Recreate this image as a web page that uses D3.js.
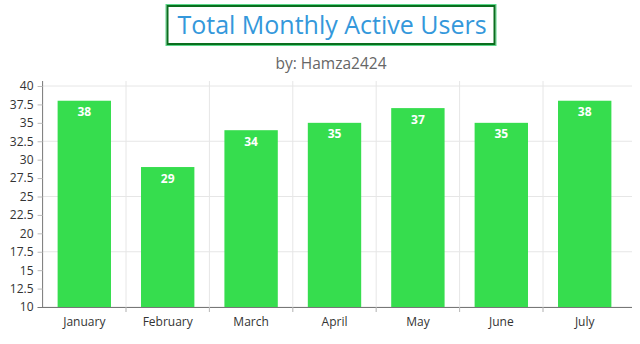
<!DOCTYPE html>
<html><head><meta charset="utf-8">
<script src="https://cdn.jsdelivr.net/npm/d3@7"></script>
<style>body{margin:0;background:#fff;font-family:"Open Sans",sans-serif}</style>
</head><body><svg id="c" width="640" height="344"></svg>
<script>
const categories = ["January","February","March","April","May","June","July"];
const values = [38,29,34,35,37,35,38];
const yTicks = [10,12.5,15,17.5,20,22.5,25,27.5,30,32.5,35,37.5,40];
const gridTicks = [10,17.5,25,32.5,40];
const title = "Total Monthly Active Users";
const subtitle = "by: Hamza2424";

(function(){
const svg = d3.select("#c");
const mLeft = 42.6, mRight = 626.4, mTop = 86, mBottom = 307;
const x = d3.scaleBand().domain(categories).range([mLeft, mRight]).paddingInner(0.36).paddingOuter(0.18);
const xg = d3.scaleBand().domain(categories).range([mLeft, mRight]);
const y = d3.scaleLinear().domain([10, 40]).range([mBottom, mTop]);

// title
svg.append("rect").attr("x",166).attr("y",4.5).attr("width",330).attr("height",41)
  .attr("fill","#fff").attr("stroke","#5ad88a").attr("stroke-width",1);
svg.append("rect").attr("x",167.5).attr("y",6).attr("width",327).attr("height",38)
  .attr("fill","none").attr("stroke","#0a6e1e").attr("stroke-width",2);
svg.append("text").attr("x",332).attr("y",34).attr("text-anchor","middle")
  .attr("font-size",25).attr("fill","#3498db").text(title);
svg.append("text").attr("x",331).attr("y",69).attr("text-anchor","middle")
  .attr("font-size",15.5).attr("fill","#666").text(subtitle);

// grid
svg.append("g").selectAll("line").data(gridTicks).join("line")
  .attr("x1",mLeft).attr("x2",632).attr("y1",d=>y(d)).attr("y2",d=>y(d))
  .attr("stroke","#e6e6e6").attr("stroke-width",1);
svg.append("g").selectAll("line").data(categories.slice(1)).join("line")
  .attr("x1",d=>xg(d)).attr("x2",d=>xg(d)).attr("y1",mTop-5).attr("y2",mBottom+5)
  .attr("stroke","#e6e6e6").attr("stroke-width",1);

// bars
svg.append("g").selectAll("rect").data(values).join("rect")
  .attr("x",(d,i)=>x(categories[i])).attr("width",x.bandwidth())
  .attr("y",d=>y(d)).attr("height",d=>mBottom-y(d)).attr("fill","#36dd4e");
svg.append("g").selectAll("text").data(values).join("text")
  .attr("x",(d,i)=>x(categories[i])+x.bandwidth()/2).attr("y",d=>y(d)+15.5)
  .attr("text-anchor","middle").attr("font-size",12).attr("font-weight","bold")
  .attr("fill","#fff").text(d=>d);

// y axis
const ya = svg.append("g").attr("transform",`translate(${mLeft},0)`)
  .call(d3.axisLeft(y).tickValues(yTicks).tickSize(5).tickPadding(4).tickFormat(d=>String(d)));
ya.select(".domain").attr("stroke","#777").attr("d",`M-0,${mTop-5}V${mBottom+0.5}`);
ya.selectAll(".tick line").attr("stroke","#bbb");
ya.selectAll("text").attr("font-family","Open Sans").attr("font-size",12).attr("fill","#333");

// x axis
const xa = svg.append("g").attr("transform",`translate(0,${mBottom})`)
  .call(d3.axisBottom(x).tickSize(0).tickPadding(10));
xa.select(".domain").attr("stroke","#777").attr("d",`M${mLeft-5},0.5H632`);
xa.selectAll("text").attr("font-family","Open Sans").attr("font-size",12).attr("fill","#333");
svg.append("g").selectAll("line").data(categories.slice(1)).join("line")
  .attr("x1",d=>xg(d)).attr("x2",d=>xg(d)).attr("y1",mBottom).attr("y2",mBottom+5)
  .attr("stroke","#bbb");
})();
</script></body></html>
